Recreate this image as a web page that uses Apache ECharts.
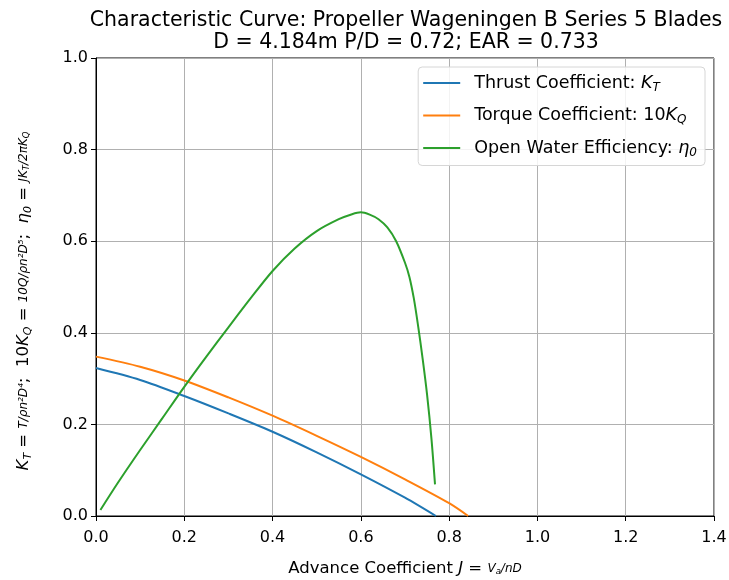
<!DOCTYPE html>
<html>
<head>
<meta charset="utf-8">
<script src="https://cdn.jsdelivr.net/npm/echarts@6/dist/echarts.min.js"></script>
<style>
  html, body { margin: 0; padding: 0; background: #fff; }
  #chart { width: 729px; height: 580px; }
</style>
</head>
<body>
<div id="chart"></div>
<script>
// values
var jThrust = [0, 0.1, 0.2, 0.3, 0.4, 0.5, 0.6, 0.7, 0.77];
var thrustKT = [0.323, 0.297, 0.262, 0.224, 0.184, 0.139, 0.091, 0.040, 0.0];

var jTorque = [0, 0.1, 0.2, 0.3, 0.4, 0.5, 0.6, 0.7, 0.8, 0.843];
var torque10KQ = [0.348, 0.326, 0.296, 0.259, 0.219, 0.175, 0.129, 0.080, 0.028, 0.0];

var jEff = [0.01, 0.05, 0.1, 0.15, 0.2, 0.25, 0.3, 0.35, 0.4, 0.45, 0.5, 0.55, 0.58, 0.6, 0.62, 0.64, 0.66, 0.68, 0.7, 0.71, 0.72, 0.73, 0.74, 0.75, 0.76, 0.768];
var efficiency = [0.013, 0.073, 0.144, 0.213, 0.282, 0.348, 0.412, 0.475, 0.535, 0.584, 0.622, 0.648, 0.659, 0.663, 0.658, 0.648, 0.630, 0.600, 0.553, 0.522, 0.475, 0.413, 0.343, 0.265, 0.168, 0.069];

var xTicks = [0, 0.2, 0.4, 0.6, 0.8, 1.0, 1.2, 1.4];
var yTicks = [0, 0.2, 0.4, 0.6, 0.8, 1.0];

var seriesNames = ['Thrust Coefficient: ', 'Torque Coefficient: ', 'Open Water Efficiency: '];
var legendMath = ['{it|K}{lsub|T}', '10{it|K}{lsub|Q}', '{it|η}{lsub|0}'];

function pairs(xs, ys) {
    return xs.map(function (x, i) { return [x, ys[i]]; });
}

var font = 'DejaVu Sans';
var richAxis = {
    it: { fontFamily: font, fontSize: 16.5, fontStyle: 'italic', color: '#000' },
    sub: { fontFamily: font, fontSize: 11, fontStyle: 'italic', color: '#000', padding: [9, 0, 0, 0] },
    fr: { fontFamily: font, fontSize: 12, fontStyle: 'italic', color: '#000' },
    frsub: { fontFamily: font, fontSize: 8.5, fontStyle: 'italic', color: '#000', padding: [6, 0, 0, 0] }
};
var richLegend = {
    it: { fontFamily: font, fontSize: 17.5, fontStyle: 'italic', color: '#000' },
    lsub: { fontFamily: font, fontSize: 12, fontStyle: 'italic', color: '#000', padding: [9, 0, 0, 0] }
};

var chart = echarts.init(document.getElementById('chart'), null, { renderer: 'canvas' });
chart.setOption({
    animation: false,
    color: ['#1f77b4', '#ff7f0e', '#2ca02c'],
    title: {
        text: 'Characteristic Curve: Propeller Wageningen B Series 5 Blades\nD = 4.184m P/D = 0.72; EAR = 0.733',
        left: 401,
        top: 5,
        textAlign: 'center',
        textStyle: { fontFamily: font, fontSize: 20.5, fontWeight: 'normal', color: '#000', lineHeight: 22 }
    },
    grid: {
        left: 96, right: 15, top: 58, bottom: 64,
        outerBoundsMode: 'none',
        containLabel: false,
        show: true, borderColor: '#000', borderWidth: 1, backgroundColor: '#fff'
    },
    legend: {
        orient: 'vertical',
        right: 24,
        top: 67,
        icon: 'rect',
        itemWidth: 37,
        itemHeight: 2,
        itemGap: 12,
        padding: [6, 8, 7, 5],
        borderColor: '#d6d6d6',
        borderWidth: 1,
        borderRadius: 4,
        backgroundColor: 'rgba(255,255,255,0.85)',
        data: seriesNames,
        formatter: function (name) {
            return name + legendMath[seriesNames.indexOf(name)];
        },
        textStyle: {
            fontFamily: font, fontSize: 17.5, color: '#000', padding: [0, 0, 0, 9],
            lineHeight: 20, rich: richLegend
        }
    },
    xAxis: {
        type: 'value',
        min: 0, max: 1.4, interval: 0.2,
        name: 'Advance Coefficient {it|J} = {fr|V}{frsub|a}{fr|/nD}',
        nameLocation: 'middle',
        nameGap: 44,
        nameTextStyle: { fontFamily: font, fontSize: 16.5, color: '#000', rich: richAxis },
        axisLine: { show: true, onZero: false, lineStyle: { color: '#000', width: 1 } },
        axisTick: { show: true, length: 5, lineStyle: { color: '#000' } },
        axisLabel: {
            fontFamily: font, fontSize: 16, color: '#000', margin: 14,
            formatter: function (v) { return v.toFixed(1); }
        },
        splitLine: { show: true, lineStyle: { color: '#b0b0b0', width: 1 } }
    },
    yAxis: {
        type: 'value',
        min: 0, max: 1, interval: 0.2,
        name: '{it|K}{sub|T} = {fr|T/ρn²D⁴};  10{it|K}{sub|Q} = {fr|10Q/ρn²D⁵};  {it|η}{sub|0} = {fr|JK}{frsub|T}{fr|/2πK}{frsub|Q}',
        nameLocation: 'middle',
        nameGap: 62,
        nameTextStyle: { fontFamily: font, fontSize: 16.5, color: '#000', rich: richAxis, padding: [0, 28, 0, 0] },
        axisLine: { show: true, lineStyle: { color: '#000', width: 1 } },
        axisTick: { show: true, length: 5, lineStyle: { color: '#000' } },
        axisLabel: {
            fontFamily: font, fontSize: 16, color: '#000', margin: 8,
            formatter: function (v) { return v.toFixed(1); }
        },
        splitLine: { show: true, lineStyle: { color: '#b0b0b0', width: 1 } }
    },
    series: [
        {
            name: seriesNames[0], type: 'line', showSymbol: false, smooth: 0.3,
            lineStyle: { width: 2 }, data: pairs(jThrust, thrustKT)
        },
        {
            name: seriesNames[1], type: 'line', showSymbol: false, smooth: 0.3,
            lineStyle: { width: 2 }, data: pairs(jTorque, torque10KQ)
        },
        {
            name: seriesNames[2], type: 'line', showSymbol: false, smooth: 0.3,
            lineStyle: { width: 2 }, data: pairs(jEff, efficiency)
        }
    ]
});
</script>
</body>
</html>
